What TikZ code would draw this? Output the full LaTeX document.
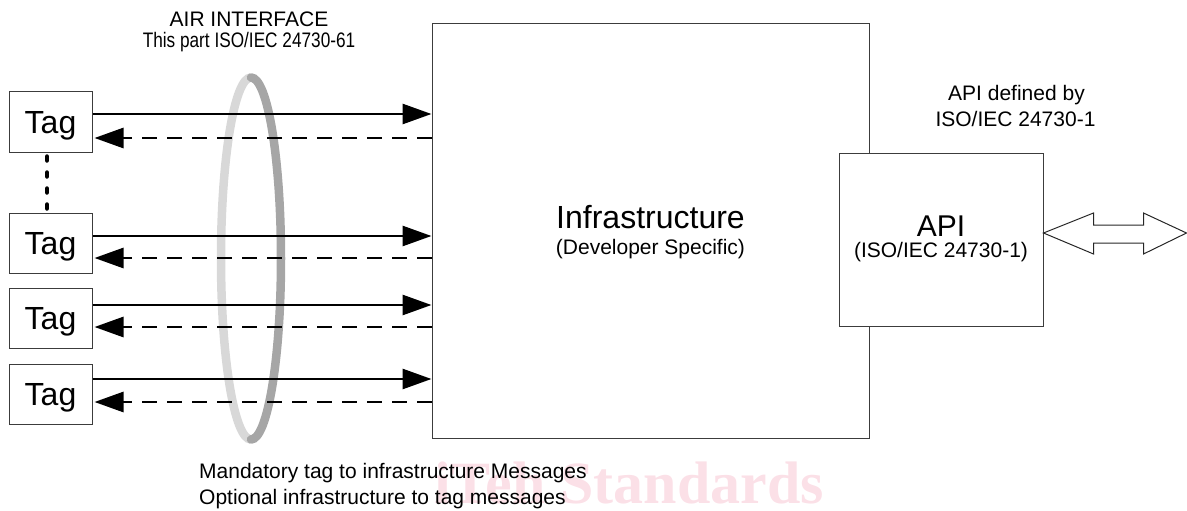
\documentclass[tikz,border=0pt]{standalone}
\usepackage{fontspec}
\setmainfont{Liberation Sans}
\newfontfamily\markfont{Liberation Serif}
\usetikzlibrary{arrows.meta}
\definecolor{ringlight}{RGB}{216,216,216}
\definecolor{ringdark}{RGB}{166,166,166}
\definecolor{boxline}{RGB}{60,60,60}
\definecolor{markpink}{RGB}{251,224,231}
\tikzset{
  box/.style={draw=boxline, line width=1pt, inner sep=0pt},
  tagbox/.style={box, minimum width=83pt, minimum height=60pt,
    font=\fontsize{32}{36}\selectfont, text height=22.9pt, text depth=0pt},
  small/.style={font=\fontsize{21}{25}\selectfont, inner sep=0pt},
  big/.style={font=\fontsize{32}{36}\selectfont, inner sep=0pt},
  fwd/.style={line width=2.8pt, -{Triangle[length=29pt,width=20pt]}},
  back/.style={line width=2.8pt, dash pattern=on 15pt off 10pt,
    -{Triangle[length=29pt,width=20pt]}},
  ring/.style={line width=8.5pt, line cap=round},
}
\begin{document}
\begin{tikzpicture}[x=1pt,y=-1pt]
\useasboundingbox (0,0) rectangle (1187,511);

% faint background mark
\node[font=\markfont\bfseries\fontsize{60}{60}\selectfont, text=markpink,
  anchor=base, inner sep=0pt] (mark) at (629,503) {iTeh Standards};

% tags
\node[tagbox] (t1) at (50.5,122) {Tag};
\node[tagbox] (t2) at (50.5,243) {Tag};
\node[tagbox] (t3) at (50.5,318.5) {Tag};
\node[tagbox] (t4) at (50.5,394) {Tag};

% infrastructure block
\node[box, minimum width=437pt, minimum height=414pt] (infra) at (650.5,231) {};
\node[big, anchor=base] (infratitle) at (650.5,228) {Infrastructure};
\node[small, anchor=base] (infrasub) at (650.5,254) {(Developer Specific)};

% API block, in front of the infrastructure edge
\node[box, fill=white, minimum width=204pt, minimum height=173pt] (api) at (941,239.5) {};
\node[font=\fontsize{30}{34}\selectfont, inner sep=0pt, anchor=base] (apititle) at (941,236) {API};
\node[small, anchor=base] (apisub) at (941,257.5) {(ISO/IEC 24730-1)};

% captions
\node[small, anchor=base] (air1) at (249,27) {AIR INTERFACE};
\node[small, anchor=base] (air2) at (249,48) {\scalebox{0.82}[1]{This part ISO/IEC 24730-61}};
\node[small, anchor=base] (apidef1) at (1016.5,101) {API defined by};
\node[small, anchor=base] (apidef2) at (1015.5,126) {ISO/IEC 24730-1};
\node[small, anchor=base west] (note1) at (199,478) {Mandatory tag to infrastructure Messages};
\node[small, anchor=base west] (note2) at (199,504) {Optional infrastructure to tag messages};

% air interface ring: light back half, dark front half
\draw[ring, ringlight] (251,77.5) arc[start angle=270, end angle=90, x radius=30, y radius=181];
\draw[ring, ringdark] (251,439.5) arc[start angle=90, end angle=-90, x radius=30, y radius=181];

% more tags between the first two
\draw[line width=4.5pt, line cap=round, dash pattern=on 4pt off 12pt]
  ([xshift=-3.5pt,yshift=-4pt]t1.south) -- ([xshift=-3.5pt]t2.north);

% messages: tag to infrastructure (solid), infrastructure to tag (dashed)
\foreach \t/\up/\dn in {t1/8/16, t2/7/15, t3/13.5/8.5, t4/15/8} {
  \draw[fwd] ([yshift=\up pt]\t.east) -- ([yshift=\up pt]\t.east -| infra.west);
  \draw[back] ([yshift=-\dn pt]\t.east -| infra.west) -- ([xshift=2pt,yshift=-\dn pt]\t.east);
}

% outline double arrow leaving the API
\draw[draw=black!85, line width=1pt, line join=miter]
  ([yshift=6.5pt]api.east) -- ++(50,-20) -- ++(0,12) -- ++(50,0) -- ++(0,-12)
  -- ++(43,20) -- ++(-43,21) -- ++(0,-11) -- ++(-50,0) -- ++(0,11) -- cycle;
\end{tikzpicture}
\end{document}
